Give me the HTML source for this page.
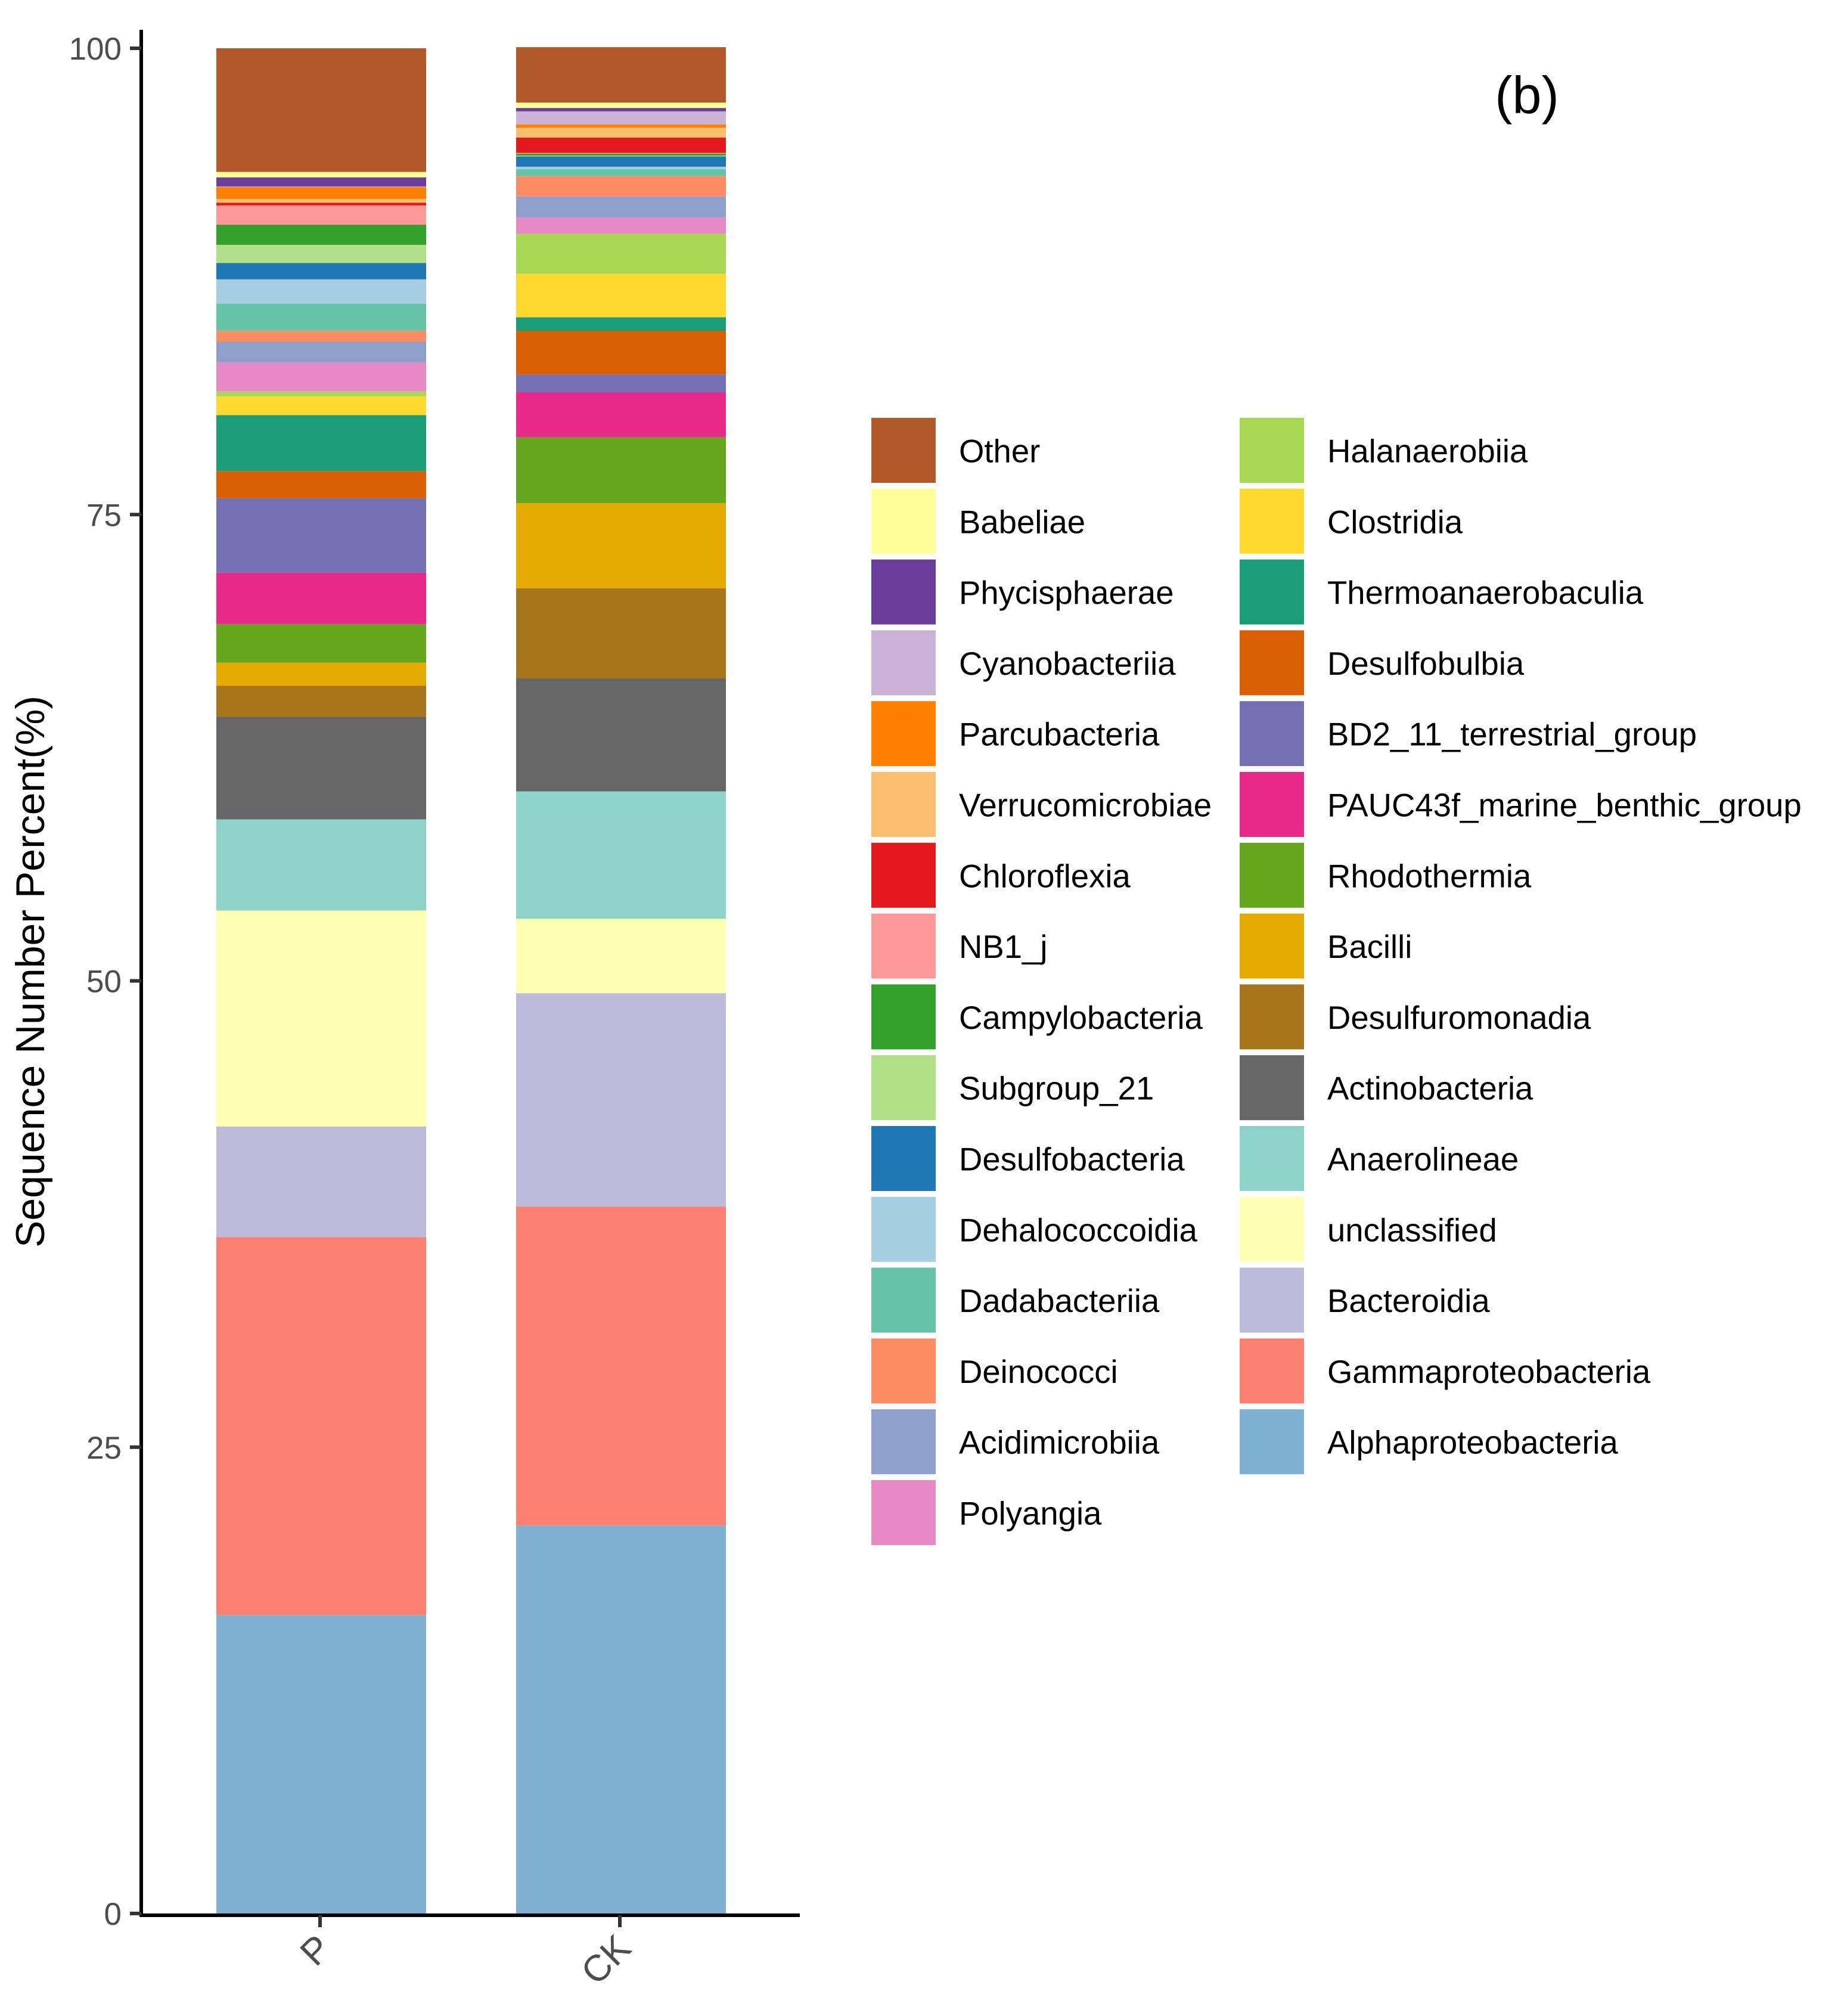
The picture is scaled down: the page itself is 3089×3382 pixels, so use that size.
<!DOCTYPE html>
<html><head><meta charset="utf-8"><style>
html,body{margin:0;padding:0;background:#fff;}
svg{display:block;font-family:"Liberation Sans",Arial,sans-serif;}
</style></head><body>
<svg id="chart" width="3089" height="3382" viewBox="0 0 3089 3382" xmlns="http://www.w3.org/2000/svg">
<g id="bars"></g>
<line x1="237" y1="50" x2="237" y2="3216" stroke="#000" stroke-width="6"/>
<line x1="234" y1="3213" x2="1342" y2="3213" stroke="#000" stroke-width="6"/>
<g id="yticks"></g>
<g id="xticks"></g>
<text transform="translate(74,1630) rotate(-90)" text-anchor="middle" font-size="68" fill="#000">Sequence Number Percent(%)</text>
<text x="2562" y="190" text-anchor="middle" font-size="88" fill="#000">(b)</text>
<g id="legend"></g>
</svg>
<script>
const NS="http://www.w3.org/2000/svg";
const categories=["P","CK"];
const taxa=["Other","Babeliae","Phycisphaerae","Cyanobacteriia","Parcubacteria","Verrucomicrobiae","Chloroflexia","NB1_j","Campylobacteria","Subgroup_21","Desulfobacteria","Dehalococcoidia","Dadabacteriia","Deinococci","Acidimicrobiia","Polyangia","Halanaerobiia","Clostridia","Thermoanaerobaculia","Desulfobulbia","BD2_11_terrestrial_group","PAUC43f_marine_benthic_group","Rhodothermia","Bacilli","Desulfuromonadia","Actinobacteria","Anaerolineae","unclassified","Bacteroidia","Gammaproteobacteria","Alphaproteobacteria"];
const colors=["#B15928","#FFFF99","#6A3D9A","#CAB2D6","#FF7F00","#FDBF6F","#E31A1C","#FB9A99","#33A02C","#B2DF8A","#1F78B4","#A6CEE3","#66C2A5","#FC8D62","#8DA0CB","#E78AC3","#A6D854","#FFD92F","#1B9E77","#D95F02","#7570B3","#E7298A","#66A61E","#E6AB02","#A6761D","#666666","#8DD3C7","#FFFFB3","#BEBADA","#FB8072","#80B1D3"];
const valuesP=[6.63,0.29,0.49,0.03,0.64,0.20,0.15,1.03,1.08,0.97,0.88,1.30,1.45,0.60,1.10,1.56,0.26,1.01,3.00,1.45,4.00,2.75,2.07,1.24,1.65,5.51,4.89,11.58,5.93,20.26,16.00];
const valuesCK=[2.97,0.29,0.18,0.70,0.18,0.53,0.82,0.04,0.10,0.05,0.55,0.13,0.37,1.10,1.12,0.88,2.14,2.33,0.73,2.34,0.95,2.42,3.53,4.56,4.83,6.06,6.83,3.99,11.44,17.10,20.80];
const series=[valuesP,valuesCK];
const yTicks=[0,25,50,75,100];

const y0=3210, yPerUnit=31.29;
function yScale(v){return y0-v*yPerUnit;}
const barLeft=[363,866], barWidth=352;
function xCenter(i){return barLeft[i]+barWidth/2;}

const gb=document.getElementById('bars');
series.forEach((vals,i)=>{
  let cum=0;
  for(let j=vals.length-1;j>=0;j--){
    const r=document.createElementNS(NS,'rect');
    
    
    r.setAttribute('x',barLeft[i]);
    r.setAttribute('width',barWidth);
    r.setAttribute('y',yScale(cum+vals[j]));
    r.setAttribute('height',Math.max(0,yScale(cum)-yScale(cum+vals[j])));
    r.setAttribute('fill',colors[j]);
    gb.appendChild(r);
    cum+=vals[j];
  }
});

const gy=document.getElementById('yticks');
yTicks.forEach(t=>{
  const yy=yScale(t);
  const l=document.createElementNS(NS,'line');
  
  
  l.setAttribute('x1',218);l.setAttribute('x2',237);l.setAttribute('y1',yy);l.setAttribute('y2',yy);
  l.setAttribute('stroke','#333');l.setAttribute('stroke-width',6);
  gy.appendChild(l);
  const tx=document.createElementNS(NS,'text');
  
  
  tx.setAttribute('x',204);tx.setAttribute('y',yy+19);
  tx.setAttribute('text-anchor','end');tx.setAttribute('font-size',53);tx.setAttribute('fill','#4d4d4d');
  tx.textContent=t;
  gy.appendChild(tx);
});

const gx=document.getElementById('xticks');
categories.forEach((c,i)=>{
  const xx=xCenter(i)-2;
  const l=document.createElementNS(NS,'line');
  
  
  l.setAttribute('x1',xx);l.setAttribute('x2',xx);l.setAttribute('y1',3213);l.setAttribute('y2',3233);
  l.setAttribute('stroke','#333');l.setAttribute('stroke-width',6);
  gx.appendChild(l);
  const tx=document.createElementNS(NS,'text');
  
  
  tx.setAttribute('transform','translate('+(xx+22)+',3272) rotate(-45)');
  tx.setAttribute('text-anchor','end');tx.setAttribute('font-size',62);tx.setAttribute('fill','#4d4d4d');
  tx.textContent=c;
  gx.appendChild(tx);
});

const gl=document.getElementById('legend');
const rowsPerCol=16, legTop=701, rowH=118.8, keyH=109;
const keyX=[1462,2080], textX=[1609,2227];
taxa.forEach((t,k)=>{
  const col=Math.floor(k/rowsPerCol), row=k%rowsPerCol;
  const top=legTop+row*rowH;
  const r=document.createElementNS(NS,'rect');
  
  
  r.setAttribute('x',keyX[col]);r.setAttribute('y',top);r.setAttribute('width',108);r.setAttribute('height',keyH);
  r.setAttribute('fill',colors[k]);
  gl.appendChild(r);
  const tx=document.createElementNS(NS,'text');
  
  
  tx.setAttribute('x',textX[col]);tx.setAttribute('y',top+keyH/2+20);
  tx.setAttribute('font-size',54.5);tx.setAttribute('fill','#000');
  tx.textContent=t;
  gl.appendChild(tx);
});
</script>
</body></html>
